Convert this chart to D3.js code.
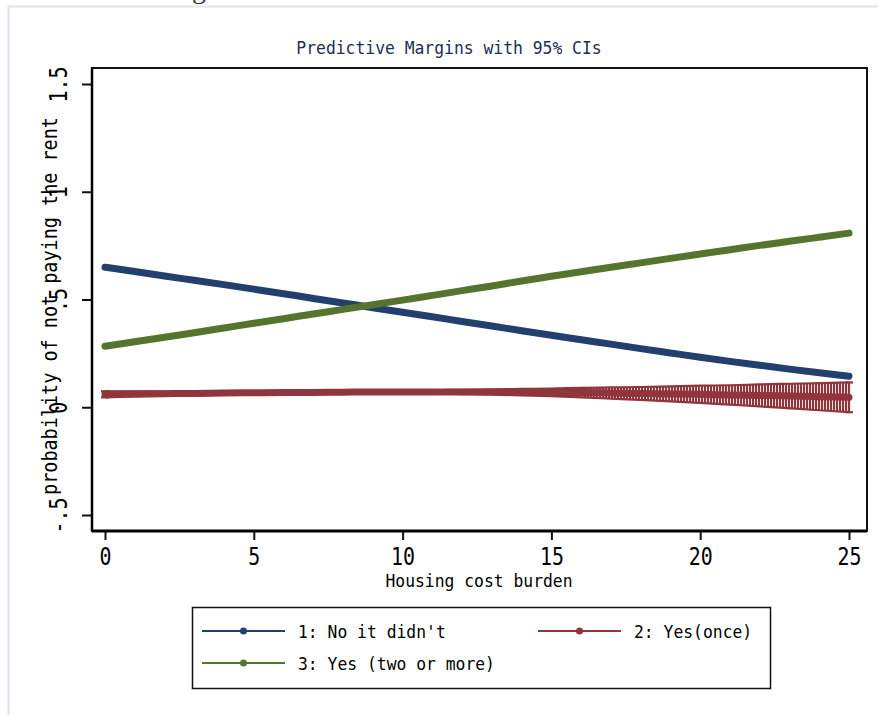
<!DOCTYPE html>
<html>
<head>
<meta charset="utf-8">
<script src="https://cdn.jsdelivr.net/npm/d3@7"></script>
<style>
  body { margin: 0; background: #fff; }
  svg { display: block; }
  text { font-family: "DejaVu Sans Mono", monospace; }
</style>
</head>
<body>
<div id="chart"></div>
<script>
// values (housing cost burden 0..25)
var burden = [0, 1, 2, 3, 4, 5, 6, 7, 8, 9, 10, 11, 12, 13, 14, 15, 16, 17, 18, 19, 20, 21, 22, 23, 24, 25];

var noItDidnt = [0.650, 0.630, 0.609, 0.589, 0.569, 0.548, 0.527, 0.505, 0.484, 0.462, 0.441, 0.420, 0.398,
  0.377, 0.355, 0.334, 0.313, 0.293, 0.272, 0.252, 0.232, 0.213, 0.195, 0.177, 0.160, 0.144];

var yesOnce = [0.060, 0.062, 0.063, 0.064, 0.066, 0.067, 0.068, 0.069, 0.070, 0.071, 0.071, 0.071, 0.071,
  0.071, 0.070, 0.069, 0.068, 0.066, 0.064, 0.062, 0.060, 0.057, 0.055, 0.052, 0.049, 0.046];
var yesOnceLo = [0.046, 0.050, 0.053, 0.055, 0.058, 0.060, 0.062, 0.063, 0.064, 0.065, 0.064, 0.063, 0.061,
  0.059, 0.055, 0.051, 0.046, 0.040, 0.034, 0.027, 0.020, 0.012, 0.004, -0.005, -0.014, -0.023];
var yesOnceHi = [0.074, 0.074, 0.073, 0.073, 0.074, 0.074, 0.074, 0.075, 0.076, 0.077, 0.078, 0.079, 0.081,
  0.083, 0.085, 0.087, 0.090, 0.092, 0.094, 0.097, 0.100, 0.102, 0.106, 0.109, 0.112, 0.115];

var yesTwoOrMore = [0.283, 0.304, 0.325, 0.346, 0.368, 0.390, 0.411, 0.433, 0.454, 0.476, 0.497, 0.519, 0.541,
  0.563, 0.586, 0.608, 0.629, 0.650, 0.670, 0.691, 0.711, 0.731, 0.751, 0.770, 0.789, 0.808];

var xTicks = [0, 5, 10, 15, 20, 25];
var yTicks = [-0.5, 0, 0.5, 1, 1.5];
var yTickLabels = ["-.5", "0", ".5", "1", "1.5"];

var legendLabels = ["1: No it didn't", "2: Yes(once)", "3: Yes (two or more)"];
var colors = ["#233f6d", "#90353b", "#55752f"];

var svg = d3.select("#chart").append("svg")
  .attr("width", 878)
  .attr("height", 715);

// page frame + cut off heading letter from the document above
svg.append("path")
  .attr("d", "M8.5,715 V6.5 H878")
  .attr("fill", "none")
  .attr("stroke", "#dfe4ef")
  .attr("stroke-width", 2);
svg.append("text")
  .attr("x", 192).attr("y", -2)
  .style("font-family", "'Liberation Serif', serif")
  .style("font-size", "28px")
  .attr("fill", "#333")
  .text("g");

var x = d3.scaleLinear().domain([0, 25]).range([105, 849]);
var y = d3.scaleLinear().domain([-0.5, 1.5]).range([515, 84]);

var plot = { left: 92, top: 68, right: 867, bottom: 531 };

// stata's font is a narrow mono, so squeeze DejaVu horizontally
function label(x0, y0, size, sx, txt, rotate) {
  return svg.append("text")
    .attr("transform", `translate(${x0},${y0})` + (rotate ? " rotate(-90)" : "") + ` scale(${sx},1)`)
    .attr("text-anchor", "middle")
    .style("font-size", size + "px")
    .attr("fill", "#000")
    .text(txt);
}

label(449, 54, 18.5, 0.885, "Predictive Margins with 95% CIs").attr("fill", "#1f2d50");

var defs = svg.append("defs");
defs.append("clipPath").attr("id", "clip")
  .append("rect")
  .attr("x", plot.left).attr("y", plot.top)
  .attr("width", plot.right - plot.left).attr("height", plot.bottom - plot.top);

// spikes of the CI are very dense, so a striped fill stands in for them
var pat = defs.append("pattern")
  .attr("id", "spikes")
  .attr("patternUnits", "userSpaceOnUse")
  .attr("x", x(0) - 1).attr("y", 0)
  .attr("width", 3).attr("height", 10);
pat.append("rect").attr("width", 3).attr("height", 10).attr("fill", "#f3e2e3");
pat.append("rect").attr("width", 2).attr("height", 10).attr("fill", colors[1]);

var g = svg.append("g").attr("clip-path", "url(#clip)");

var line = d3.line()
  .x(d => x(d[0]))
  .y(d => y(d[1]))
  .curve(d3.curveMonotoneX);

var area = d3.area()
  .x(d => x(d[0]))
  .y0(d => y(d[1]))
  .y1(d => y(d[2]))
  .curve(d3.curveMonotoneX);

var ciRows = burden.map((b, i) => [b, yesOnceLo[i], yesOnceHi[i]]);

g.append("path")
  .attr("d", area(ciRows))
  .attr("fill", "url(#spikes)");

[yesOnceLo, yesOnceHi].forEach(arr => {
  g.append("path")
    .attr("d", line(burden.map((b, i) => [b, arr[i]])))
    .attr("fill", "none")
    .attr("stroke", colors[1])
    .attr("stroke-width", 2.2);
});

// end spikes with caps
[0, burden.length - 1].forEach(i => {
  g.append("line")
    .attr("x1", x(burden[i])).attr("x2", x(burden[i]))
    .attr("y1", y(yesOnceLo[i])).attr("y2", y(yesOnceHi[i]))
    .attr("stroke", colors[1]).attr("stroke-width", 2.2);
  [yesOnceLo[i], yesOnceHi[i]].forEach(v => {
    g.append("line")
      .attr("x1", x(burden[i]) - 4).attr("x2", x(burden[i]) + 4)
      .attr("y1", y(v)).attr("y2", y(v))
      .attr("stroke", colors[1]).attr("stroke-width", 2.2);
  });
});

var series = [noItDidnt, yesOnce, yesTwoOrMore];
series.forEach((vals, k) => {
  g.append("path")
    .attr("d", line(burden.map((b, i) => [b, vals[i]])))
    .attr("fill", "none")
    .attr("stroke", colors[k])
    .attr("stroke-width", 7)
    .attr("stroke-linecap", "round")
    .attr("stroke-linejoin", "round");
});

// plot region border
svg.append("rect")
  .attr("x", plot.left).attr("y", plot.top)
  .attr("width", plot.right - plot.left).attr("height", plot.bottom - plot.top)
  .attr("fill", "none")
  .attr("stroke", "#111")
  .attr("stroke-width", 2);

var yAxis = svg.append("g")
  .attr("transform", `translate(${plot.left},0)`)
  .call(d3.axisLeft(y).tickValues(yTicks).tickSize(10).tickSizeOuter(0)
    .tickFormat((d, i) => yTickLabels[i]));
yAxis.select(".domain").remove();
yAxis.selectAll("line").attr("stroke", "#111").attr("stroke-width", 2);
yAxis.selectAll("text")
  .attr("x", null).attr("dy", null)
  .attr("text-anchor", "middle")
  .attr("transform", "translate(-25,0) rotate(-90) scale(0.83,1)")
  .attr("fill", "#000")
  .style("font-size", "24px")
  .style("font-family", "'DejaVu Sans Mono', monospace");

var xAxis = svg.append("g")
  .attr("transform", `translate(0,${plot.bottom})`)
  .call(d3.axisBottom(x).tickValues(xTicks).tickSize(9).tickSizeOuter(0));
xAxis.select(".domain").remove();
xAxis.selectAll("line").attr("stroke", "#111").attr("stroke-width", 2);
xAxis.selectAll("text")
  .attr("y", null).attr("dy", null)
  .attr("transform", "translate(0,34) scale(0.83,1)")
  .attr("fill", "#000")
  .style("font-size", "24px")
  .style("font-family", "'DejaVu Sans Mono', monospace");

// heavier axis lines
svg.append("line")
  .attr("x1", plot.left).attr("x2", plot.right)
  .attr("y1", plot.bottom).attr("y2", plot.bottom)
  .attr("stroke", "#000").attr("stroke-width", 3);
svg.append("line")
  .attr("x1", plot.left).attr("x2", plot.left)
  .attr("y1", plot.top).attr("y2", plot.bottom)
  .attr("stroke", "#000").attr("stroke-width", 2.5);

label(479, 587, 18.5, 0.885, "Housing cost burden");
label(57, 306, 22, 0.84, "probability of not paying the rent", true);

// legend
svg.append("rect")
  .attr("x", 192.5).attr("y", 607.5)
  .attr("width", 578).attr("height", 81)
  .attr("fill", "#fff")
  .attr("stroke", "#111")
  .attr("stroke-width", 1.5);

var legendPos = [[202, 631], [538, 631], [202, 663]];
legendLabels.forEach((lab, k) => {
  var p = legendPos[k];
  var item = svg.append("g").attr("transform", `translate(${p[0]},${p[1]})`);
  item.append("line")
    .attr("x1", 0).attr("x2", 83)
    .attr("stroke", colors[k]).attr("stroke-width", 2);
  item.append("circle")
    .attr("cx", 41.5).attr("r", 3.5)
    .attr("fill", colors[k]);
  item.append("text")
    .attr("transform", "translate(96,6.5) scale(0.885,1)")
    .style("font-size", "18.5px")
    .attr("fill", "#000")
    .text(lab);
});
</script>
</body>
</html>
